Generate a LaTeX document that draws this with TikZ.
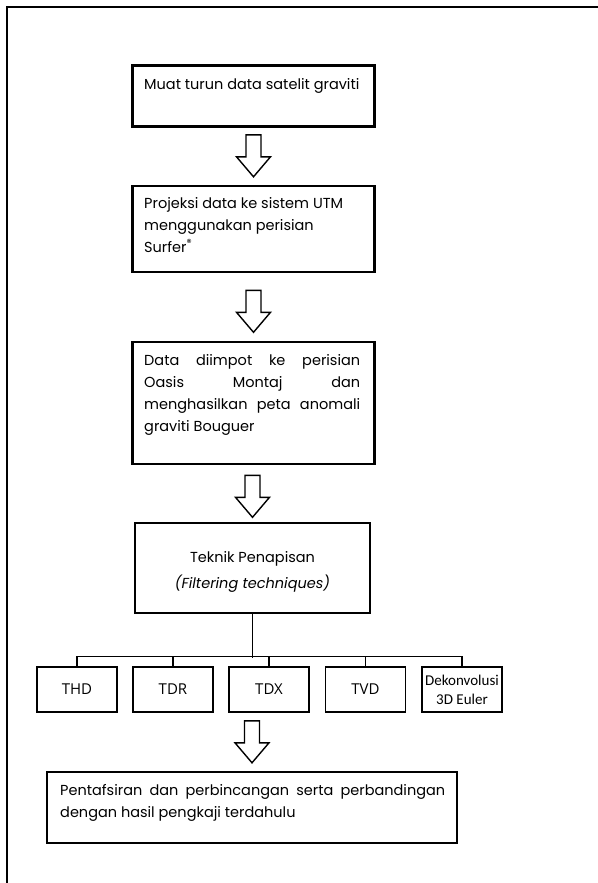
\documentclass[tikz,border=0pt]{standalone}
\usepackage{fontspec}
\setmainfont{Poppins}
\newfontfamily\calfont{Carlito}
\newfontfamily\sansfont{Open Sans}
\usetikzlibrary{calc}
\tikzset{
  mainbox/.style={draw, line width=2.6pt, rectangle, inner sep=0pt},
  thinbox/.style={draw, line width=1.6pt, rectangle, inner sep=0pt},
  leafbox/.style={draw, line width=1.6pt, rectangle, inner sep=0pt, minimum width=80pt, minimum height=45pt},
  txt/.style={inner sep=0pt, anchor=base west, font=\fontsize{14.5}{22}\selectfont},
  blockarr/.style={draw, line width=1.4pt, fill=white, line join=miter},
  tree/.style={draw, line width=1.4pt},
  frame/.style={draw, line width=2.8pt}
}
\newcommand{\blkarrow}[1]{%
  \draw[blockarr] ($(#1)+(-7.5,0)$) -- ++(15,0) -- ++(0,22) -- ++(9.5,0) -- ++(-17,20) -- ++(-17,-20) -- ++(9.5,0) -- cycle;}
\begin{document}
\begin{tikzpicture}[x=1pt, y=-1pt]
\useasboundingbox (0,0) rectangle (597,883);
% outer frame (cut off at right and bottom)
\draw[frame] (7,890) -- (7,7) -- (605,7);

% boxes
\node[mainbox, minimum width=242pt, minimum height=61pt] (b1) at (253.5,96) {};
\node[txt] (t1) at (144,89) {Muat turun data satelit graviti};

\node[mainbox, minimum width=242pt, minimum height=86pt] (b2) at (253.5,229) {};
\node[txt] (t2) at (144,208) {\parbox[t]{216pt}{\raggedright Projeksi data ke sistem UTM\\menggunakan perisian\\Surfer\textsuperscript{®}}};

\node[mainbox, minimum width=242pt, minimum height=122pt] (b3) at (253.5,403) {};
\node[txt] (t3) at (144,365) {\parbox[t]{216pt}{\makebox[216pt][s]{Data diimpot ke perisian}\\\makebox[216pt][s]{Oasis Montaj dan}\\\makebox[216pt][s]{menghasilkan peta anomali}\\graviti Bouguer}};

\node[thinbox, minimum width=235pt, minimum height=90pt] (b4) at (252.5,568) {};
\node[inner sep=0pt, anchor=base, font=\fontsize{14.5}{26}\selectfont] (t4) at (252.5,562) {\parbox[t]{220pt}{\centering Teknik Penapisan\\\textit{(Filtering techniques)}}};

\node[mainbox, minimum width=410pt, minimum height=71pt] (b5) at (252,807.5) {};
\node[txt] (t5) at (60,795) {\parbox[t]{390pt}{\makebox[385pt][s]{Pentafsiran dan perbincangan serta perbandingan}\\dengan hasil pengkaji terdahulu}};

% leaf boxes
\node[leafbox, font=\sansfont\fontsize{15}{18}\selectfont] (l1) at (77,689.5) {THD};
\node[leafbox, font=\sansfont\fontsize{15}{18}\selectfont] (l2) at (173,689.5) {TDR};
\node[leafbox, font=\sansfont\fontsize{15}{18}\selectfont] (l3) at (269,689.5) {TDX};
\node[leafbox, font=\sansfont\fontsize{15}{18}\selectfont] (l4) at (365.5,689.5) {TVD};
\node[leafbox, font=\calfont\fontsize{15}{19}\selectfont, align=center] (l5) at (462,689.5) {Dekonvolusi\\3D Euler};

% tree connectors
\coordinate (j) at ($(b4.south)+(0,44)$);
\draw[tree] (b4.south) -- (j);
\draw[tree] (l1.north) -- ++(0,-10) -| (l5.north);
\foreach \n in {l2,l3,l4} \draw[tree] (\n.north) -- ++(0,-10);

% block arrows
\blkarrow{$(b1.south)+(0,7)$}
\blkarrow{$(b2.south)+(0,17)$}
\blkarrow{$(b3.south)+(-1,10)$}
\blkarrow{$(l3.south)+(-17,8)$}
\end{tikzpicture}
\end{document}
